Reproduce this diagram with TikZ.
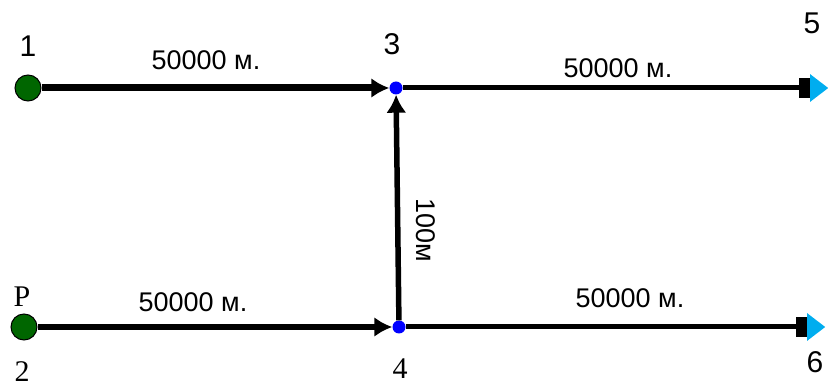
\documentclass[tikz,border=0pt]{standalone}
\usepackage{fontspec}
\setmainfont{Liberation Sans}
\newfontfamily\serifnum{Liberation Serif}
\usetikzlibrary{arrows.meta, shapes.geometric}

\begin{document}
\begin{tikzpicture}[x=1pt, y=-1pt, >={Latex[length=18pt, width=20pt]},
    every node/.style={inner sep=0pt},
    src/.style={circle, draw=black, line width=1pt, fill=green!40!black, minimum size=26pt},
    jn/.style={circle, fill=blue, minimum size=13pt},
    snk/.style={isosceles triangle, isosceles triangle apex angle=75, fill=cyan, minimum height=18pt, minimum width=22pt},
    pipe/.style={draw, line width=6pt},
    dist/.style={font=\fontsize{27}{30}\selectfont},
    num/.style={font=\fontsize{30}{32}\selectfont},
    sernum/.style={font=\serifnum\fontsize{30}{32}\selectfont}]
    \useasboundingbox (0,0) rectangle (828,390);

    % points of the scheme
    \node (n1) [src] at (28,88) {};
    \node (n2) [src] at (24,327) {};
    \node (n3) [jn] at (396,88) {};
    \node (n4) [jn] at (399,327) {};
    \node (n5) [snk] at (817,88) {};
    \node (n6) [snk] at (814,327) {};

    % numbers
    \node (t1) [num] at (28,46) {1};
    \node (t3) [num] at (392,44) {3};
    \node (t5) [num] at (812,23) {5};
    \node (tp) [sernum] at (22,297) {P};
    \node (t2) [sernum] at (22,372) {2};
    \node (t4) [sernum] at (400,369) {4};
    \node (t6) [num] at (815,362) {6};

    % pipes
    \draw [pipe, line width=7pt, ->] (n1) -- (n3);
    \draw [pipe, line width=5pt, -{Rectangle[length=11pt, width=20pt]}] (n3) -- (n5.west);
    \draw [pipe, ->] (n2) -- (n4);
    \draw [pipe, line width=5pt, -{Rectangle[length=11pt, width=20pt]}] (n4) -- (n6.west);
    \draw [pipe, line width=5.5pt, ->] (n4) -- (n3);

    % lengths
    \node (d13) [dist] at (206,60) {50000 м.};
    \node (d35) [dist] at (618,68) {50000 м.};
    \node (d24) [dist] at (193,302) {50000 м.};
    \node (d46) [dist] at (630,298) {50000 м.};
    \node (d34) [dist, rotate=-90] at (426,230) {100м};
\end{tikzpicture}
\end{document}
